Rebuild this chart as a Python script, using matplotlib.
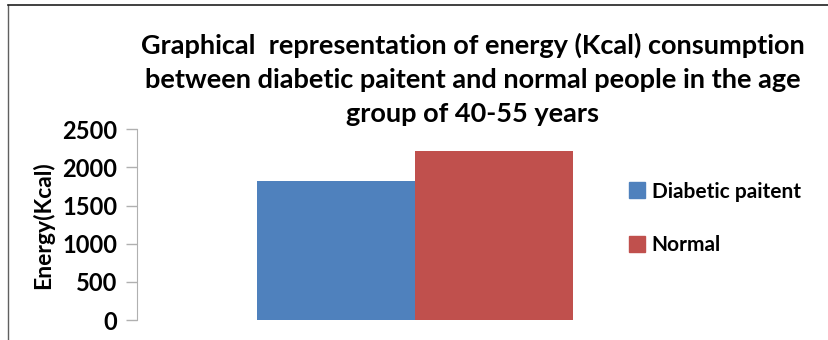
import matplotlib.pyplot as plt
from matplotlib.lines import Line2D

# energy consumption for the 40-55 age group
series = ["Diabetic paitent", "Normal"]
energy = [1820, 2220]
colors = ["#4f81bd", "#c0504d"]
yticks = [0, 500, 1000, 1500, 2000, 2500]

plt.rcParams["font.family"] = ["Lato", "DejaVu Sans"]
plt.rcParams["font.weight"] = "bold"

fig = plt.figure(figsize=(8.29, 3.40), dpi=100)
ax = fig.add_axes([137/829, 20/340, (693-137)/829, (320-129.3)/340])

w = 0.568
offsets = [-w/2, w/2]
for i in range(len(series)):
    ax.bar(offsets[i], energy[i], width=w, color=colors[i], label=series[i])

ax.set_xlim(-1, 1)
ax.set_ylim(0, 2500)
ax.set_yticks(yticks)
ax.set_xticks([])
ax.tick_params(axis="y", length=8, width=1, color="#b0b0b0", labelsize=17, pad=6)
for s in ["top", "right", "bottom"]:
    ax.spines[s].set_visible(False)
ax.spines["left"].set_color("#b0b0b0")
ax.set_ylabel("Energy(Kcal)", fontsize=16.5, fontweight="bold", labelpad=6)

fig.text(0.570, 0.905,
         "Graphical  representation of energy (Kcal) consumption\n"
         "between diabetic paitent and normal people in the age\n"
         "group of 40-55 years",
         ha="center", va="top", fontsize=19.5, fontweight="bold", linespacing=1.52)

handles = [Line2D([], [], marker="s", linestyle="", markersize=11, color=c) for c in colors]
fig.legend(handles, series, loc="upper left", bbox_to_anchor=(606/829, 1 - 163/340),
           frameon=False, fontsize=15, labelspacing=1.6, handletextpad=0.1, handlelength=1.2)

# chart border, only the top and left edges are in view
fig.add_artist(Line2D([8/829, 8/829], [0, 1 - 5/340], transform=fig.transFigure, color="#606060", lw=1))
fig.add_artist(Line2D([8/829, 1], [1 - 5/340, 1 - 5/340], transform=fig.transFigure, color="#202020", lw=1.2))

fig.savefig("out.png", dpi=100)
